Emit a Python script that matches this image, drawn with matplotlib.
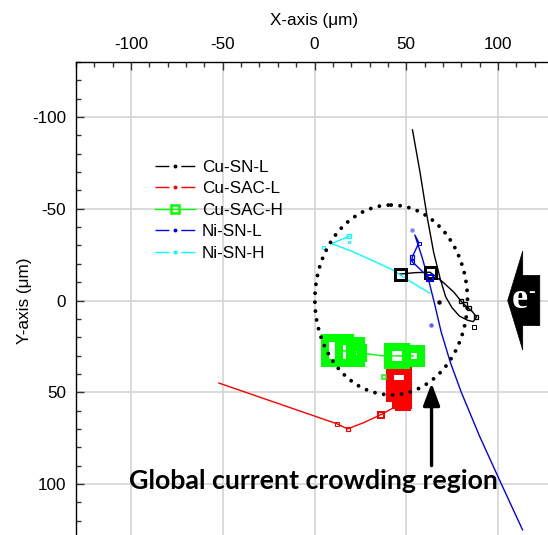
import matplotlib
matplotlib.use("Agg")
import matplotlib.pyplot as plt
from matplotlib.lines import Line2D
from matplotlib.patches import Ellipse, Polygon

plt.rcParams['font.family'] = ['Liberation Sans', 'DejaVu Sans']
plt.rcParams['axes.unicode_minus'] = False

# ---------------- data ----------------
series_names = ["Cu-SN-L", "Cu-SAC-L", "Cu-SAC-H", "Ni-SN-L", "Ni-SN-H"]
series_colors = ["#000000", "#ff0000", "#00ff00", "#0000ff", "#00ffff"]

# smoothed curves
cu_sn_l_line_x = [53.4, 57.5, 61.5, 65.0, 68.5, 71.5, 75.0, 79.0, 83.5, 86.5, 88.3, 86.0, 83.0, 80.0, 76.0, 70.0, 63.0, 55.0, 46.5]
cu_sn_l_line_y = [-93.0, -70.0, -45.0, -26.0, -12.0, -2.0, 4.0, 8.5, 10.8, 11.5, 9.0, 6.0, 3.5, 0.5, -4.5, -10.0, -15.4, -15.2, -14.4]
cu_sac_l_line_x = [-52.1, 12.5, 18.0, 27.0, 36.2, 44.0, 48.0]
cu_sac_l_line_y = [45.0, 67.3, 70.0, 66.5, 62.2, 58.0, 54.0]
cu_sac_h_line_x = [12.5, 28.3, 37.4, 54.0]
cu_sac_h_line_y = [27.0, 29.0, 30.2, 30.2]
ni_sn_l_line_x = [62.8, 53.2, 53.2, 56.9, 54.7, 58.5, 62.5, 65.5, 69.0, 74.0, 80.0, 90.0, 100.0, 113.4]
ni_sn_l_line_y = [-12.0, -21.2, -23.5, -31.5, -35.7, -24.0, -10.0, 2.0, 17.0, 33.6, 50.0, 74.0, 96.0, 125.0]
ni_sn_h_line_x = [18.9, 9.3, 20.0, 30.0, 42.0, 52.0, 62.8]
ni_sn_h_line_y = [-35.0, -31.0, -27.0, -22.5, -17.0, -10.5, -4.0]

# measured points (square markers, marker size varies per point)
cu_sn_l_x = [46.5, 63.0, 80.0, 82.0, 84.0, 88.3, 86.8]
cu_sn_l_y = [-14.4, -15.4, 0.0, 2.0, 4.0, 9.0, 14.3]
cu_sn_l_size = [14, 14, 6, 6, 6, 6, 4.5]        # outer size, px
cu_sn_l_edge = [3, 3, 1.3, 1.3, 1.3, 1.3, 1.0]  # edge, px

cu_sac_l_x = [12.5, 18.0, 36.2, 46.3, 45.2, 46.9, 48.5]
cu_sac_l_y = [67.3, 70.0, 62.2, 43.3, 49.3, 53.1, 55.9]
cu_sac_l_size = [4.5, 5.5, 7.5, 26, 22, 20, 16]
cu_sac_l_edge = [1.0, 1.2, 2.0, 8, 8, 7, 6]

cu_sac_h_x = [12.5, 19.1, 23.4, 44.7, 54.0, 38.0]
cu_sac_h_y = [27.0, 28.1, 28.1, 30.2, 30.2, 41.9]
cu_sac_h_size = [33, 30, 18, 26, 22, 6]
cu_sac_h_edge = [8, 8, 7, 8, 8, 1.5]

ni_sn_l_x = [56.9, 53.2, 53.2, 62.8]
ni_sn_l_y = [-31.5, -23.5, -21.2, -12.0]
ni_sn_l_size = [4, 5, 5, 8]
ni_sn_l_edge = [1.0, 1.2, 1.2, 2.0]

ni_sn_h_x = [18.9, 18.9, 4.9]
ni_sn_h_y = [-35.0, -31.7, -29.0]
ni_sn_h_size = [5, 3, 4]
ni_sn_h_edge = [1.3, 1.0, 1.0]

# small dot points
dot_x = [68.0, 53.2, 63.6]
dot_y = [1.0, -38.4, 13.5]
dot_colors = ["#000000", "#8080ff", "#6060ff"]

x_ticks = [-100, -50, 0, 50, 100]
y_ticks = [-100, -50, 0, 50, 100]

# ---------------- figure ----------------
W, H = 548, 535
fig = plt.figure(figsize=(W / 100, H / 100), dpi=100)
ax_left, ax_top, ax_size = 76, 62, 477
ax = fig.add_axes([ax_left / W, 1 - (ax_top + ax_size) / H, ax_size / W, ax_size / H])
ax.set_xlim(-130, 130)
ax.set_ylim(130, -130)

PX = 0.72  # points per pixel

ax.set_axisbelow(True)
ax.grid(True, which='major', color='#d4d4d4', lw=1.2)
ax.set_xticks(x_ticks)
ax.set_yticks(y_ticks)
ax.set_xticks(range(-130, 131, 10), minor=True)
ax.set_yticks(range(-130, 131, 10), minor=True)
ax.xaxis.tick_top()
ax.xaxis.set_label_position('top')
ax.tick_params(which='major', direction='in', length=6, width=1, labelsize=12.3, pad=7, color='#333333')
ax.tick_params(which='minor', direction='in', length=3.5, width=1, color='#333333')
ax.tick_params(axis='x', which='both', top=True, bottom=False)
ax.tick_params(axis='y', which='both', left=True, right=False)
for s in ['right', 'bottom']:
    ax.spines[s].set_visible(False)
for s in ['left', 'top']:
    ax.spines[s].set_linewidth(1.0)
ax.set_xlabel('X-axis (μm)', fontsize=12.3, labelpad=9)
ax.set_ylabel('Y-axis (μm)', fontsize=12.3, labelpad=0)

lines = [
    (cu_sn_l_line_x, cu_sn_l_line_y, cu_sn_l_x, cu_sn_l_y, cu_sn_l_size, cu_sn_l_edge),
    (cu_sac_l_line_x, cu_sac_l_line_y, cu_sac_l_x, cu_sac_l_y, cu_sac_l_size, cu_sac_l_edge),
    (cu_sac_h_line_x, cu_sac_h_line_y, cu_sac_h_x, cu_sac_h_y, cu_sac_h_size, cu_sac_h_edge),
    (ni_sn_l_line_x, ni_sn_l_line_y, ni_sn_l_x, ni_sn_l_y, ni_sn_l_size, ni_sn_l_edge),
    (ni_sn_h_line_x, ni_sn_h_line_y, ni_sn_h_x, ni_sn_h_y, ni_sn_h_size, ni_sn_h_edge),
]
for (lx, ly, mx, my, ms, me), col in zip(lines, series_colors):
    ax.plot(lx, ly, color=col, lw=1.0, zorder=3)
    for xi, yi, si, ei in zip(mx, my, ms, me):
        ax.plot([xi], [yi], ls='none', marker='s', ms=(si - ei) * PX, mew=ei * PX,
                mfc='none', mec=col, zorder=4)

for xi, yi, c in zip(dot_x, dot_y, dot_colors):
    ax.plot([xi], [yi], ls='none', marker='o', ms=2.2, color=c, zorder=4)

# dotted ellipse (global current crowding region)
ell = Ellipse((41.8, -0.3), 83.2, 103.5, fill=False, ec='black', lw=2.8,
              ls=(0, (0.0001, 2.3)), zorder=5)
ell.set_capstyle('round')
ax.add_patch(ell)

# arrow and label
ax.annotate('', xy=(63.8, 45.0), xytext=(63.8, 90.0),
            arrowprops=dict(arrowstyle='-|>,head_length=0.75,head_width=0.28',
                            lw=2.4, color='black', shrinkA=0, shrinkB=0, mutation_scale=18),
            zorder=6)
ax.text(-0.8, 98.5, 'Global current crowding region', fontsize=19.3, fontweight='bold',
        family=['Lato', 'DejaVu Sans'], ha='center', va='center', zorder=6)

# electron-flow block arrow
tip_x, base_x, right_x, head_h, body_h = 105.3, 113.5, 122.8, 27.0, 13.7
poly = Polygon([(tip_x, 0), (base_x, -head_h), (base_x, -body_h), (right_x, -body_h),
                (right_x, body_h), (base_x, body_h), (base_x, head_h)],
               closed=True, fc='black', ec='black', lw=0.5, zorder=6, clip_on=False)
ax.add_patch(poly)
ax.text(111.7, -0.5, 'e', color='white', fontsize=26, fontweight='bold',
        family=['Liberation Serif', 'DejaVu Serif'], ha='center', va='center', zorder=7)
ax.text(118.5, -4.5, '-', color='white', fontsize=14, fontweight='bold',
        family=['Liberation Serif', 'DejaVu Serif'], ha='center', va='center', zorder=7)

# legend
handles = []
for name, col in zip(series_names, series_colors):
    if name == "Cu-SAC-H":
        h = Line2D([], [], color=col, lw=1.0, marker='s', ms=5.5, mew=1.8, mfc='none', mec=col)
    else:
        h = Line2D([], [], color=col, lw=1.0, ls=(0, (10.0, 8.6)), marker='o', ms=1.8, mec=col, mfc=col)
    handles.append(h)
ax.legend(handles, series_names, loc='upper left', bbox_to_anchor=(0.165, 0.795),
          frameon=False, fontsize=12.3, handlelength=2.35, handletextpad=0.4,
          labelspacing=0.38, borderpad=0, borderaxespad=0)

fig.savefig('out.png', dpi=100)
